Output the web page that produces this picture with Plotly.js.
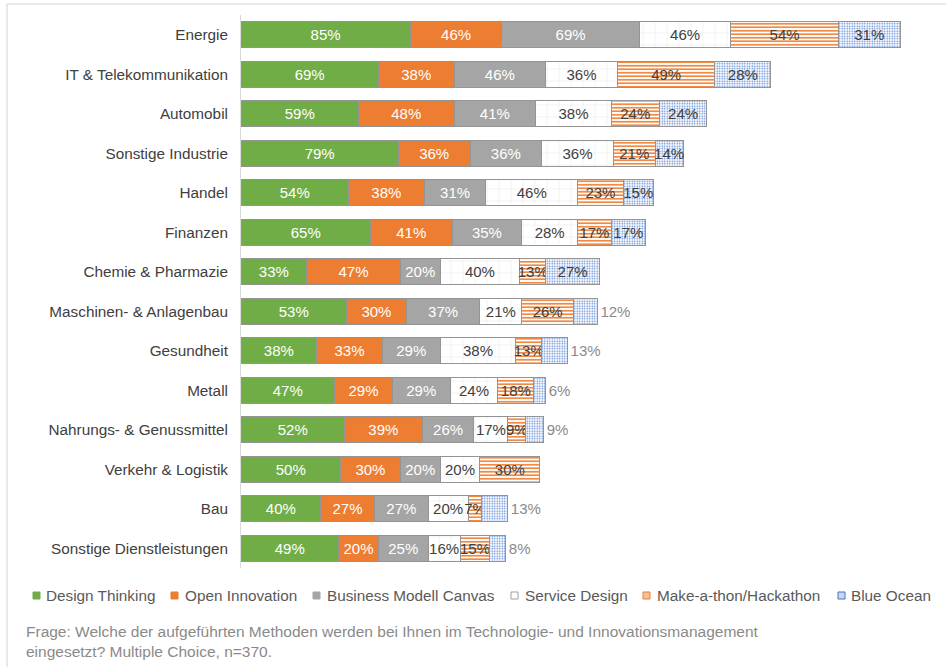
<!DOCTYPE html>
<html><head><meta charset="utf-8">
<script src="https://cdn.plot.ly/plotly-3.0.1.min.js"></script>
<style>html,body{margin:0;padding:0;background:#fff}#chart{width:946px;height:667px}</style>
</head><body><div id="chart"></div>
<script>
const categories = ['Energie','IT & Telekommunikation','Automobil','Sonstige Industrie','Handel','Finanzen','Chemie & Pharmazie','Maschinen- & Anlagenbau','Gesundheit','Metall','Nahrungs- & Genussmittel','Verkehr & Logistik','Bau','Sonstige Dienstleistungen'];
const designThinking = [85,69,59,79,54,65,33,53,38,47,52,50,40,49];
const openInnovation = [46,38,48,36,38,41,47,30,33,29,39,30,27,20];
const businessModelCanvas = [69,46,41,36,31,35,20,37,29,29,26,20,27,25];
const serviceDesign = [46,36,38,36,46,28,40,21,38,24,17,20,20,16];
const makeathon = [54,49,24,21,23,17,13,26,13,18,9,30,7,15];
const blueOcean = [31,28,24,14,15,17,27,12,13,6,9,0,13,8];
const seriesNames = ['Design Thinking','Open Innovation','Business Modell Canvas','Service Design','Make-a-thon/Hackathon','Blue Ocean'];
const footnoteLines = ['Frage: Welche der aufgeführten Methoden werden bei Ihnen im Technologie- und Innovationsmanagement','eingesetzt? Multiple Choice, n=370.'];

const W = 946, H = 667;
const M = {l: 241, r: 18, t: 15, b: 99};
const PW = W - M.l - M.r, PH = H - M.t - M.b;
const px2x = p => (p - M.l) / PW;
const py2y = p => (H - M.b - p) / PH;

const FONT = 'Liberation Sans, Arial, sans-serif';
const edge = {color: '#949494', width: 1};
const styles = [
  {color: '#70AD47', txt: '#ffffff'},
  {color: '#ED7D31', txt: '#ffffff'},
  {color: '#A5A5A5', txt: '#ffffff'},
  {color: '#ffffff', txt: '#404040', pattern: {shape: '+', fgcolor: '#d2d2d2', bgcolor: '#ffffff', fillmode: 'replace', size: 12, solidity: 0.05}},
  {color: '#ffffff', txt: '#404040', pattern: {shape: '-', fgcolor: '#F08A45', bgcolor: '#ffffff', fillmode: 'replace', size: 3.5, solidity: 0.5}},
  {color: '#ffffff', txt: '#404040', pattern: {shape: '.', fgcolor: '#5683D2', bgcolor: '#ffffff', fillmode: 'replace', size: 2.5, solidity: 0.3}}
];
const series = [designThinking, openInnovation, businessModelCanvas, serviceDesign, makeathon, blueOcean];

const traces = series.map((vals, i) => {
  const st = styles[i];
  const marker = {color: st.color, line: edge};
  if (st.pattern) marker.pattern = st.pattern;
  const isLast = i === series.length - 1;
  return {
    type: 'bar', orientation: 'h', name: seriesNames[i],
    y: categories, x: vals,
    text: vals.map(v => v ? v + '%' : ''),
    textposition: isLast ? vals.map(v => v > 13 ? 'inside' : 'outside') : 'inside',
    insidetextanchor: 'middle',
    constraintext: 'none',
    textangle: 0,
    cliponaxis: false,
    insidetextfont: {family: FONT, size: 15, color: st.txt},
    outsidetextfont: {family: FONT, size: 15, color: '#8a8a8a'},
    marker: marker,
    hoverinfo: 'skip',
    showlegend: false
  };
});

// custom legend (compact like the original)
const legendItems = [
  {sq: 33, tx: 44},
  {sq: 171, tx: 183},
  {sq: 313, tx: 325},
  {sq: 511, tx: 523},
  {sq: 643, tx: 655},
  {sq: 838, tx: 849}
];
const legY = 595;
const shapes = [];
const annotations = [];
legendItems.forEach((it, i) => {
  const st = styles[i];
  let fill = st.color, line = st.color;
  if (i === 3) { fill = '#ffffff'; line = '#a0a0a0'; }
  if (i === 4) { fill = '#F8C09A'; line = '#ED7D31'; }
  if (i === 5) { fill = '#C9D7F0'; line = '#4472C4'; }
  shapes.push({type: 'rect', xref: 'paper', yref: 'paper',
    x0: px2x(it.sq), x1: px2x(it.sq + 7), y0: py2y(legY + 4), y1: py2y(legY - 3),
    fillcolor: fill, line: {color: line, width: 1}});
  annotations.push({xref: 'paper', yref: 'paper', x: px2x(it.tx), y: py2y(legY),
    xanchor: 'left', yanchor: 'middle', showarrow: false, text: seriesNames[i],
    font: {family: FONT, size: 15.3, color: '#595959'}});
});
footnoteLines.forEach((t, i) => {
  annotations.push({xref: 'paper', yref: 'paper', x: px2x(24), y: py2y(631 + i * 20),
    xanchor: 'left', yanchor: 'middle', showarrow: false, text: t,
    font: {family: FONT, size: 15.5, color: '#8a8a8a'}});
});
// outer frame
shapes.push({type: 'rect', xref: 'paper', yref: 'paper', layer: 'below',
  x0: px2x(7), x1: px2x(960), y0: py2y(690), y1: py2y(4),
  line: {color: '#d4d4d4', width: 1}, fillcolor: 'rgba(0,0,0,0)'});

const layout = {
  width: W, height: H,
  margin: M,
  paper_bgcolor: '#ffffff', plot_bgcolor: '#ffffff',
  barmode: 'stack', bargap: 0.34,
  font: {family: FONT, color: '#595959'},
  showlegend: false,
  xaxis: {range: [0, 345], visible: false, fixedrange: true},
  yaxis: {autorange: 'reversed', type: 'category', showline: true, linecolor: '#d9d9d9', linewidth: 1,
          showgrid: false, ticks: '', ticklen: 0, ticklabelstandoff: 9,
          tickfont: {family: FONT, size: 15.3, color: '#404040'}},
  shapes: shapes,
  annotations: annotations,
  uniformtext: {mode: false}
};

Plotly.newPlot('chart', traces, layout, {displayModeBar: false, staticPlot: true});
</script>
</body></html>
